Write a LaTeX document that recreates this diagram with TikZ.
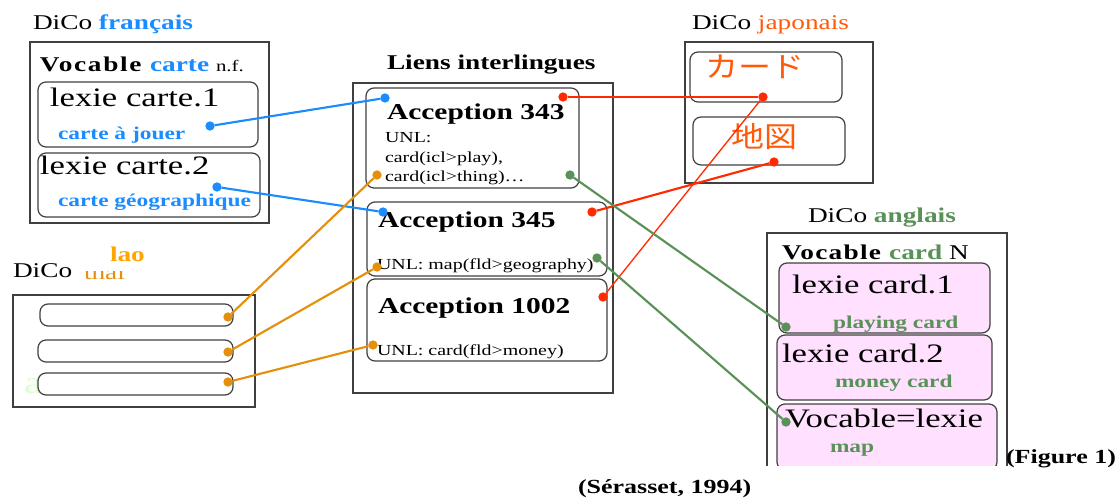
\documentclass[tikz,border=0pt]{standalone}
\usepackage{fontspec}
\setmainfont[FakeStretch=1.3]{Liberation Serif}
\newfontfamily\cjk[FakeStretch=1.15]{Noto Sans CJK JP}
\usetikzlibrary{fit}
\definecolor{frblue}{HTML}{1A8CFF}
\definecolor{jpred}{HTML}{FF2A00}
\definecolor{jptext}{HTML}{FF5A0A}
\definecolor{laoorange}{HTML}{E4900C}
\definecolor{laotext}{HTML}{FFA500}
\definecolor{engreen}{HTML}{5A9158}
\definecolor{enpink}{HTML}{FFE0FF}
\definecolor{palegreen}{HTML}{DDFFCC}

\begin{document}
\begin{tikzpicture}[x=0.75pt, y=-0.75pt, every node/.style={inner sep=0pt, outer sep=0pt},
    frame/.style={draw=black!75, line width=0.9pt, inner sep=0pt},
    lexbox/.style={draw=black!75, line width=0.9pt, rounded corners=6pt, inner sep=0pt},
    title/.style={anchor=base west, font=\fontsize{15.75}{18}\selectfont},
    lexie/.style={anchor=base west, font=\fontsize{20}{22}\selectfont},
    gloss/.style={anchor=base west, font=\bfseries\fontsize{13.5}{15}\selectfont},
    acc/.style={anchor=base west, font=\bfseries\fontsize{17}{19}\selectfont},
    unl/.style={anchor=base west, font=\fontsize{11.5}{13}\selectfont},
    dot/.style={circle, fill, minimum size=7pt},
    link/.style={line width=1.6pt}]
    \useasboundingbox (0,0) rectangle (1118,499);

    % DiCo francais
    \node[title] (frtitle) at (33,30) {DiCo \textcolor{frblue}{\textbf{français}}};
    \node[frame, fit={(30,42) (269,223)}] (frbox) {};
    \node[title] (frvoc) at (40,72) {{\addfontfeature{LetterSpace=8}\textbf{Vocable}} \textcolor{frblue}{\textbf{carte}} {\fontsize{12}{14}\selectfont n.f.}};
    \node[lexbox, fit={(38,82) (258,147)}] (fr1) {};
    \node[lexbox, fit={(38,153) (260,217)}] (fr2) {};
    \node[lexie] (fr1t) at (50,107) {lexie carte.1};
    \node[gloss, frblue] (fr1g) at (58,140) {carte à jouer};
    \node[lexie] (fr2t) at (40,175) {lexie carte.2};
    \node[gloss, frblue] (fr2g) at (58,207) {carte géographique};
    \node[dot, frblue] (frd1) at (210,126) {};
    \node[dot, frblue] (frd2) at (217,187) {};

    % Liens interlingues
    \node[title, font=\bfseries\fontsize{15.75}{18}\selectfont] (iltitle) at (387,70) {Liens interlingues};
    \node[frame, fit={(353,83) (613,393)}] (ilbox) {};
    \node[lexbox, fit={(366,88) (579,188)}] (acc343) {};
    \node[lexbox, fit={(367,202) (607,276)}] (acc345) {};
    \node[lexbox, fit={(367,279) (607,361)}] (acc1002) {};
    \node[acc] (acc343t) at (387,120) {Acception 343};
    \node[unl] (acc343u1) at (385,143) {UNL:};
    \node[unl] (acc343u2) at (385,163) {card(icl>play),};
    \node[unl] (acc343u3) at (385,182) {card(icl>thing)…};
    \node[acc] (acc345t) at (378,228) {Acception 345};
    \node[unl] (acc345u) at (377,270) {UNL: map(fld>geography)};
    \node[acc] (acc1002t) at (378,313) {Acception 1002};
    \node[unl] (acc1002u) at (377,355) {UNL: card(fld>money)};

    \node[dot, frblue] (a343b) at (385,98) {};
    \node[dot, jpred] (a343r) at (563,97) {};
    \node[dot, laoorange] (a343o) at (377,175) {};
    \node[dot, engreen] (a343g) at (570,175) {};
    \node[dot, frblue] (a345b) at (383,212) {};
    \node[dot, jpred] (a345r) at (592,212) {};
    \node[dot, laoorange] (a345o) at (377,267) {};
    \node[dot, engreen] (a345g) at (597,258) {};
    \node[dot, jpred] (a1002r) at (603,297) {};
    \node[dot, laoorange] (a1002o) at (373,345) {};

    % DiCo japonais
    \node[title] (jptitle) at (692,30) {DiCo \textcolor{jptext}{japonais}};
    \node[frame, fit={(685,42) (873,183)}] (jpbox) {};
    \node[lexbox, fit={(690,52) (842,102)}] (jp1) {};
    \node[lexbox, fit={(693,117) (845,165)}] (jp2) {};
    \node[font=\cjk\fontsize{21.5}{24}\selectfont, text=jptext] (jp1t) at (755,67) {カード};
    \node[font=\cjk\fontsize{21.5}{24}\selectfont, text=jptext] (jp2t) at (764,137) {地図};
    \node[dot, jpred] (jpd1) at (763,97) {};
    \node[dot, jpred] (jpd2) at (774,162) {};

    % DiCo anglais
    \node[title] (entitle) at (808,223) {DiCo \textcolor{engreen}{\textbf{anglais}}};
    \begin{scope}
        \clip (760,228) rectangle (1012,465.5);
        \node[frame, fit={(767,233) (1007,480)}] (enbox) {};
        \node[lexbox, fill=enpink, fit={(779,263) (990,333)}] (en1) {};
        \node[lexbox, fill=enpink, fit={(777,335) (992,400)}] (en2) {};
        \node[lexbox, fill=enpink, fit={(777,404) (997,470)}] (en3) {};
    \end{scope}
    \node[title] (envoc) at (782,260) {{\addfontfeature{LetterSpace=6}\textbf{Vocable}} \textcolor{engreen}{\textbf{card}} N};
    \node[lexie] (en1t) at (792,293) {lexie card.1};
    \node[gloss, engreen] (en1g) at (833,328) {playing card};
    \node[lexie] (en2t) at (782,362) {lexie card.2};
    \node[gloss, engreen] (en2g) at (835,387) {money card};
    \node[lexie] (en3t) at (785,427) {Vocable=lexie};
    \node[gloss, engreen] (en3g) at (830,452) {map};
    \node[dot, engreen] (end1) at (786,327) {};
    \node[dot, engreen] (end3) at (786,422) {};

    % DiCo lao
    \node[title, text=laoorange] (thaitxt) at (84,279) {thai};
    \fill[white] (80,258) rectangle (132,271);
    \node[title] (laotitle) at (13,277) {DiCo};
    \node[title, font=\bfseries\fontsize{15.75}{18}\selectfont, text=laotext] (laoname) at (110,262) {lao};
    \node[frame, fit={(13,295) (255,407)}] (laobox) {};
    \node[anchor=base west, font=\fontsize{24}{26}\selectfont, text=palegreen] (laoa) at (24,393) {a};
    \foreach \i/\xl/\yt/\yb/\yd in {1/40/304/326/317, 2/38/340/362/352, 3/38/373/395/382} {
        \node[lexbox, fill=white, fit={(\xl,\yt) (233,\yb)}] (lao\i) {};
        \node[dot, laoorange] (laod\i) at (228,\yd) {};
    }

    \node[anchor=base west, font=\bfseries\fontsize{15}{17}\selectfont] (fig) at (1006,463) {(Figure 1)};
    \node[anchor=base west, font=\bfseries\fontsize{15}{17}\selectfont] (src) at (578,493) {(Sérasset, 1994)};

    % liens
    \draw[link, frblue] (frd1) -- (a343b);
    \draw[link, frblue] (frd2) -- (a345b);
    \draw[link, jpred] (a343r) -- (jpd1);
    \draw[link, jpred] (a345r) -- (jpd2);
    \draw[jpred, line width=1pt] (a1002r) -- (jpd1);
    \draw[link, engreen] (a343g) -- (end1);
    \draw[link, engreen] (a345g) -- (end3);
    \draw[link, laoorange] (laod1) -- (a343o);
    \draw[link, laoorange] (laod2) -- (a345o);
    \draw[link, laoorange] (laod3) -- (a1002o);
\end{tikzpicture}
\end{document}
